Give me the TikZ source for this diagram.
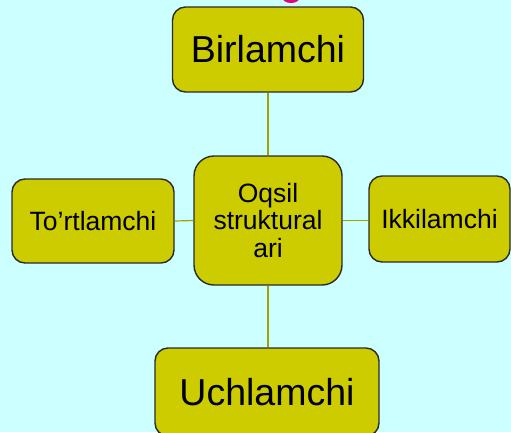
\documentclass[tikz,border=0pt]{standalone}
\usepackage{fontspec}
\setmainfont{Liberation Sans}
\usepackage{tikz}
\usepackage{xcolor}
\usetikzlibrary{positioning}
\definecolor{skycyan}  {HTML}{CCFFFF}
\definecolor{olivebox} {HTML}{CCCC00}
\definecolor{oliveline}{HTML}{A3A300}
\definecolor{boxedge}  {HTML}{2A2A2A}
\definecolor{titlepink}{HTML}{E0087F}
\tikzset{
  bigbox/.style   ={draw=boxedge, fill=olivebox, line width=1.4pt,
                    rounded corners=13pt, align=center, inner sep=0pt,
                    font=\fontsize{37.5}{40}\selectfont},
  smallbox/.style ={draw=boxedge, fill=olivebox, line width=1.4pt,
                    rounded corners=13pt, align=center, inner sep=0pt,
                    font=\fontsize{26.5}{27.5}\selectfont},
  corebox/.style  ={smallbox, rounded corners=20pt},
  link/.style     ={draw=oliveline, line width=1.2pt},
}
\begin{document}
\begin{tikzpicture}[x=1pt,y=-1pt]
    \useasboundingbox[fill=skycyan] (0,0) rectangle (511,432);

    % cut-off title at the top edge
    \begin{scope}
      \clip (0,0) rectangle (511,432);
      \fill[titlepink] (291,-1.5) ellipse [x radius=8, y radius=4.5];
    \end{scope}

    \node[corebox,minimum width=148pt,minimum height=129pt] (core) at (268,220.5)
      {Oqsil\\struktural\\ari};
    \node[bigbox,minimum width=191pt,minimum height=85pt]   (bir)  at (268,49.5)  {Birlamchi};
    \node[smallbox,minimum width=162pt,minimum height=84pt] (tort) at (93,221)    {To’rtlamchi};
    \node[smallbox,minimum width=141pt,minimum height=86pt] (ikki) at (439.5,219) {Ikkilamchi};
    \node[bigbox,minimum width=224pt,minimum height=88pt]   (uch)  at (267,392)   {Uchlamchi};

    \draw[link] (bir.south)  -- (core.north);
    \draw[link] (core.south) -- (core.south |- uch.north);
    \draw[link] (core.west)  -- (tort.east);
    \draw[link] (core.east)  -- (ikki.west |- core.east);
\end{tikzpicture}
\end{document}
